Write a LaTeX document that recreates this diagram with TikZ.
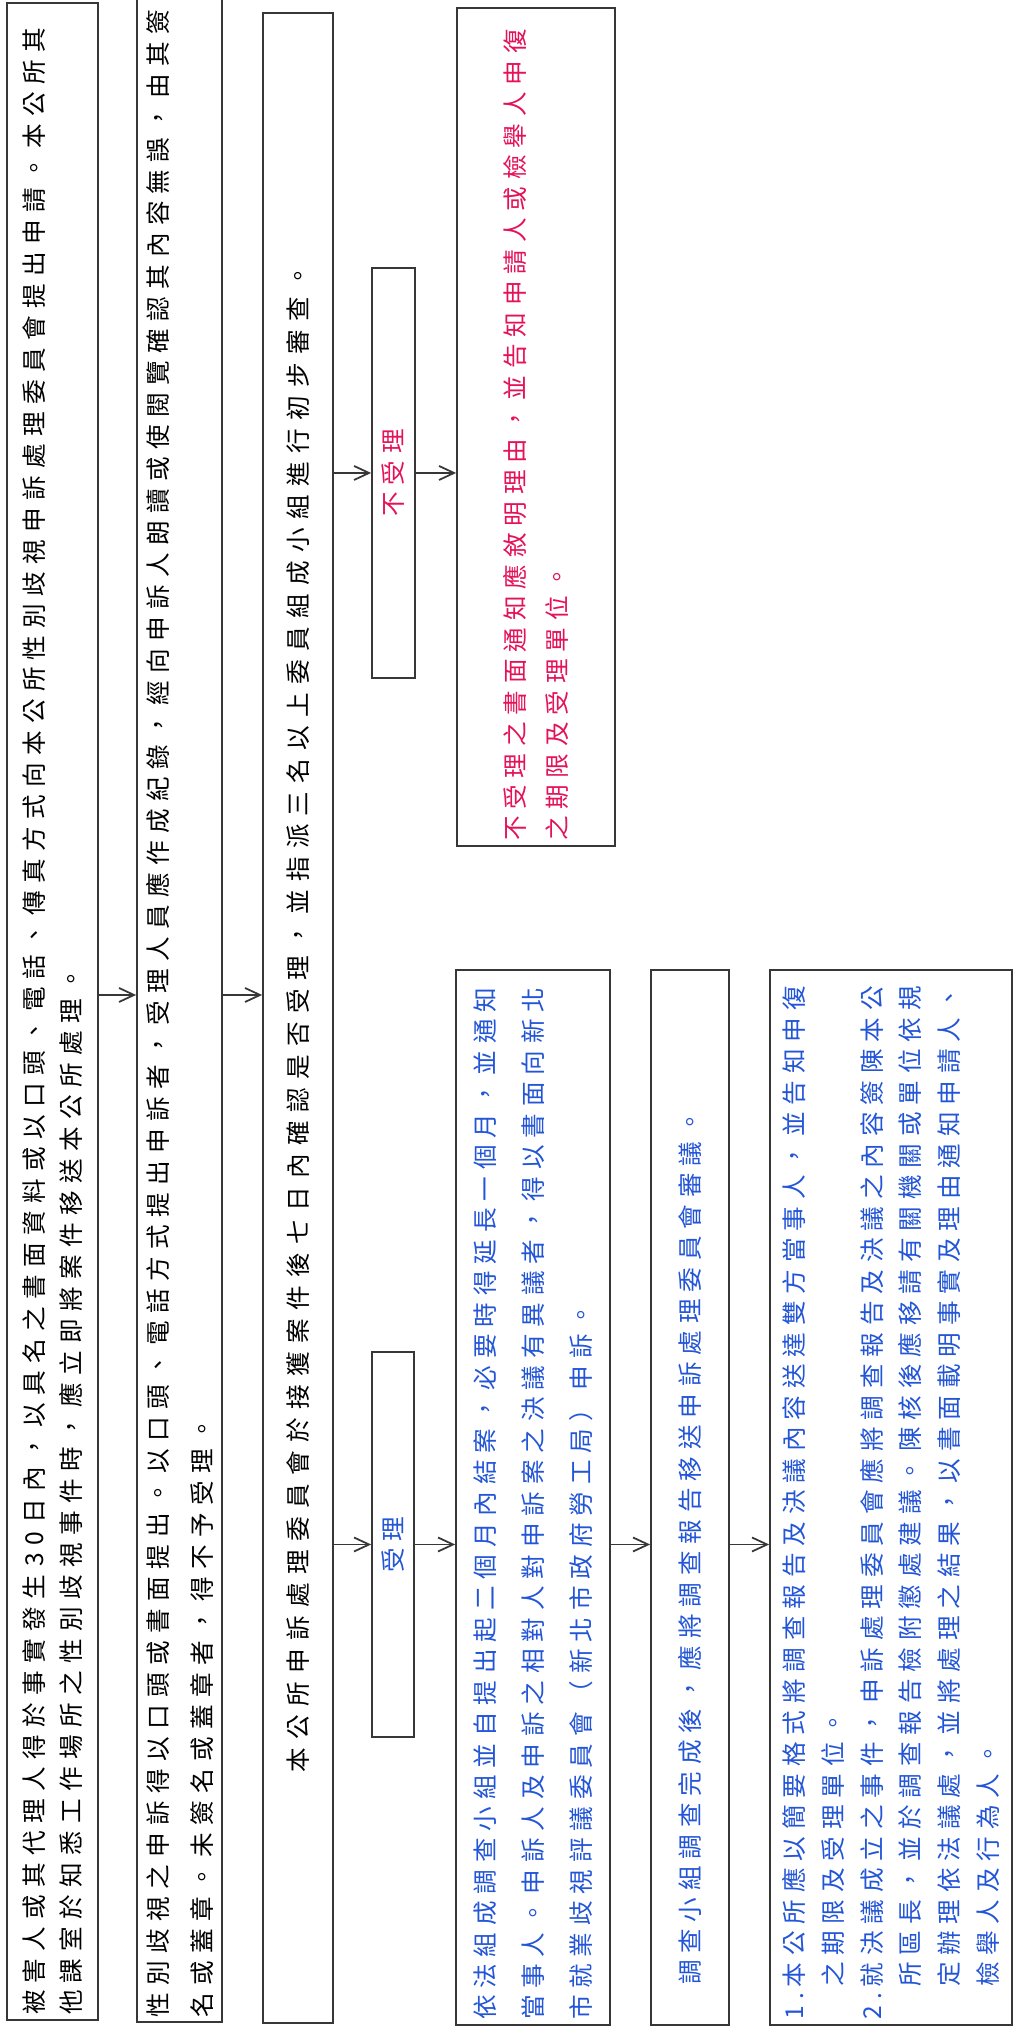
\documentclass[tikz,border=0pt]{standalone}
\usepackage{fontspec}
\newfontfamily\cjk[LetterSpace=28]{Noto Sans CJK TC}
\usetikzlibrary{arrows.meta}
\definecolor{inkBlue}{RGB}{35, 85, 215}
\definecolor{inkRed}{RGB}{228, 18, 88}
\definecolor{lineGray}{RGB}{55, 55, 55}
\tikzset{
  stepboxK/.style={rectangle, draw=lineGray, line width=0.5pt, text=black,
                   inner xsep=0.05cm, inner ysep=0pt, align=left},
  stepboxB/.style={rectangle, draw=lineGray, line width=0.5pt, text=inkBlue,
                   inner xsep=0.05cm, inner ysep=0pt, align=left},
  stepboxR/.style={rectangle, draw=lineGray, line width=0.5pt, text=inkRed,
                   inner xsep=0.05cm, inner ysep=0pt, align=left},
  tagboxB/.style={rectangle, draw=lineGray, line width=0.5pt, text=inkBlue,
                  minimum width=3.85cm, minimum height=0.42cm, inner sep=0pt,
                  align=center, font=\cjk\fontsize{7}{9}\selectfont},
  tagboxR/.style={rectangle, draw=lineGray, line width=0.5pt, text=inkRed,
                  minimum width=4.1cm, minimum height=0.43cm, inner sep=0pt,
                  align=center, font=\cjk\fontsize{7}{9}\selectfont},
  linegap/.style={font=\cjk\fontsize{7}{#1}\selectfont},
  widegap/.style 2 args={font=\cjk\fontsize{7}{#1}\selectfont\addfontfeature{LetterSpace=#2}},
}

\begin{document}
\begin{tikzpicture}[
    arrow/.style={-{Straight Barb[length=1.5mm, width=1.4mm]}, line width=0.5pt, draw=lineGray},
  ]
  \useasboundingbox (0,0) rectangle (10.15,20.30);
  \begin{scope}[rotate=90, transform shape]
    % Filing of the complaint
    \node[stepboxK, widegap={10.5}{30}, text width=20.07cm, minimum height=0.91cm] (Sub) at (10.185,-0.525)
         {被害人或其代理人得於事實發生 30 日內，以具名之書面資料或以口頭、電話、傳真方式向本公所性別歧視申訴處理委員會提出申請。本公所其\\
          他課室於知悉工作場所之性別歧視事件時，應立即將案件移送本公所處理。};
    \node[stepboxK, widegap={12.5}{30}, text width=20.16cm, minimum height=0.85cm] (Rec) at (10.21,-1.795)
         {性別歧視之申訴得以口頭或書面提出。以口頭、電話方式提出申訴者，受理人員應作成紀錄，經向申訴人朗讀或使閱覽確認其內容無誤，由其簽\\
          名或蓋章。未簽名或蓋章者，得不予受理。};
    \node[stepboxK, widegap={10.5}{34}, text width=20.00cm, minimum height=0.70cm, align=center] (Chk) at (10.12,-2.98)
         {本公所申訴處理委員會於接獲案件後七日內確認是否受理，並指派三名以上委員組成小組進行初步審查。};

    \coordinate (Ax) at (10.35,0);
    \draw[arrow] (Sub.south -| Ax) -- (Rec.north -| Ax);
    \draw[arrow] (Rec.south -| Ax) -- (Chk.north -| Ax);

    % Accepted
    \node[tagboxB] (Acc) at (4.855,-3.93) {受理};
    \node[stepboxB, linegap=13.7, text width=10.45cm, minimum height=1.54cm] (Inv) at (5.325,-5.33)
         {依法組成調查小組並自提出起二個月內結案，必要時得延長一個月，並通知\\
          當事人。申訴人及申訴之相對人對申訴案之決議有異議者，得以書面向新北\\
          市就業歧視評議委員會（新北市政府勞工局）申訴。};
    \node[stepboxB, linegap=10.5, text width=10.45cm, minimum height=0.78cm] (Rev) at (5.325,-6.90)
         {\hspace*{0.35cm}調查小組調查完成後，應將調查報告移送申訴處理委員會審議。};
    \node[stepboxB, linegap=11, text width=10.45cm, minimum height=2.42cm] (Dec) at (5.325,-8.91)
         {\makebox[0.33cm][l]{1.}本公所應以簡要格式將調查報告及決議內容送達雙方當事人，並告知申復\\
          \hspace*{0.33cm}之期限及受理單位。\\
          \makebox[0.33cm][l]{2.}就決議成立之事件，申訴處理委員會應將調查報告及決議之內容簽陳本公\\
          \hspace*{0.33cm}所區長，並於調查報告檢附懲處建議。陳核後應移請有關機關或單位依規\\
          \hspace*{0.33cm}定辦理依法議處，並將處理之結果，以書面載明事實及理由通知申請人、\\
          \hspace*{0.33cm}檢舉人及行為人。};

    \draw[arrow] (Chk.south -| Acc) -- (Acc);
    \draw[arrow] (Acc) -- (Inv.north -| Acc);
    \draw[arrow] (Inv.south -| Acc) -- (Rev.north -| Acc);
    \draw[arrow] (Rev.south -| Acc) -- (Dec.north -| Acc);

    % Not accepted
    \node[tagboxR] (Rej) at (15.57,-3.935) {不受理};
    \node[stepboxR, linegap=12.2, text width=8.28cm, minimum height=1.58cm] (Not) at (16.03,-5.36)
         {不受理之書面通知應敘明理由，並告知申請人或檢舉人申復\\
          之期限及受理單位。};

    \draw[arrow] (Chk.south -| Rej) -- (Rej);
    \draw[arrow] (Rej) -- (Not.north -| Rej);
  \end{scope}
\end{tikzpicture}
\end{document}
